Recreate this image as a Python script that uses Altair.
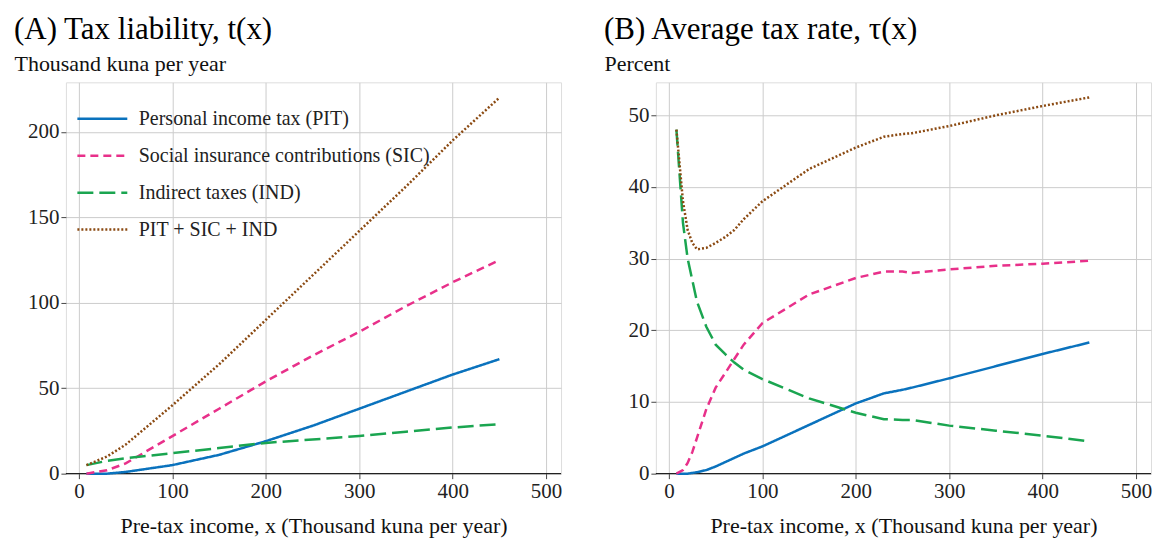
import altair as alt
import pandas as pd

series = ["Personal income tax (PIT)", "Social insurance contributions (SIC)", "Indirect taxes (IND)", "PIT + SIC + IND"]
colors = ["#0a72bd", "#e8308a", "#1aa550", "#8b4a12"]
dashes = [[1, 0], [8, 5], [16, 6], [2, 2]]

# Panel A: levels (thousand kuna)
xa = [8, 30, 50, 100, 150, 200, 250, 300, 350, 400, 450]
a_pit = [0, 0, 1, 5, 11, 19, 28, 38, 48, 58, 67]
a_sic = [0, 2, 6, 22, 38, 54, 69, 83, 98, 112, 125]
a_ind = [5, 7.5, 9, 12, 15, 18, 20, 22, 24.5, 27, 29]
a_tot = [5, 10, 17, 40, 64, 90, 116, 142, 168, 195, 220]

# Panel B: rates (percent)
xb = [8, 15, 20, 25, 30, 40, 50, 60, 70, 80, 100, 150, 200, 230, 250, 260, 300, 350, 400, 450]
b_pit = [0, 0, 0, 0.1, 0.2, 0.5, 1, 1.6, 2.2, 2.8, 3.8, 6.8, 9.8, 11.2, 11.7, 12, 13.3, 15, 16.7, 18.3]
b_sic = [0, 0.5, 1.5, 3, 5, 9, 12, 14, 16, 18, 21, 25, 27.3, 28.2, 28.2, 28, 28.5, 29, 29.3, 29.7]
b_ind = [48, 35, 30, 27, 24, 20.5, 18, 16.7, 15.5, 14.5, 13.2, 10.5, 8.5, 7.6, 7.5, 7.5, 6.7, 6, 5.3, 4.5]
b_tot = [48, 38, 34, 32.2, 31.3, 31.5, 32.2, 33, 34, 35.5, 38, 42.5, 45.5, 47, 47.4, 47.5, 48.5, 50, 51.3, 52.5]

def frame(xs, cols):
    rows = []
    for s, vals in zip(series, cols):
        for x, v in zip(xs, vals):
            rows.append({"x": x, "y": v, "s": s})
    return pd.DataFrame(rows)

dfa = frame(xa, [a_pit, a_sic, a_ind, a_tot])
dfb = frame(xb, [b_pit, b_sic, b_ind, b_tot])

F = "Liberation Serif"

def panel(df, title, ytitle, ymax, legend):
    leg = alt.Legend(title=None, orient="top-left", labelFont=F,
                     labelFontSize=20, symbolType="stroke", symbolSize=2500, symbolStrokeWidth=2.5,
                     labelLimit=500, rowPadding=-20, offset=0, padding=10, labelColor="#222", labelOffset=10)
    xax = alt.Axis(values=[0, 100, 200, 300, 400, 500], title="Pre-tax income, x (Thousand kuna per year)",
                   titleFont=F, titleFontSize=22, titleFontWeight="normal", labelFont=F, labelFontSize=21,
                   labelColor="#222", titleColor="#111", gridColor="#cccccc", domain=False, tickColor="#444",
                   titlePadding=14, labelPadding=2)
    yax = alt.Axis(title=ytitle, titleAngle=0, titleAlign="left", titleBaseline="bottom", titleX=-52, titleY=-7,
                   titleFont=F, titleFontSize=22, titleFontWeight="normal", labelFont=F, labelFontSize=21,
                   labelColor="#222", titleColor="#111", gridColor="#cccccc", domain=False, tickColor="#444", tickCount=6)
    lines = alt.Chart(df).mark_line(strokeWidth=2.5).encode(
        x=alt.X("x:Q", scale=alt.Scale(domain=[-14, 516], nice=False), axis=xax),
        y=alt.Y("y:Q", scale=alt.Scale(domain=[0, ymax], nice=False), axis=yax),
        color=alt.Color("s:N", scale=alt.Scale(domain=series, range=colors), legend=leg if legend else None),
        strokeDash=alt.StrokeDash("s:N", scale=alt.Scale(domain=series, range=dashes), legend=leg if legend else None),
    )
    zero = alt.Chart(pd.DataFrame({"y": [0]})).mark_rule(color="black", strokeWidth=1).encode(y="y:Q")
    return alt.layer(zero, lines).properties(
        width=496, height=392,
        title=alt.TitleParams(title, font=F, fontSize=31, fontWeight="normal", anchor="start", offset=6, color="black"))

chart = alt.hconcat(
    panel(dfa, "(A) Tax liability, t(x)", "Thousand kuna per year", 229, True),
    panel(dfb, "(B) Average tax rate, τ(x)", "Percent", 54.6, False),
    spacing=40,
).configure_view(stroke=None).configure(background="white")

chart.save("out.html", embed_options={"renderer": "svg", "actions": False})
